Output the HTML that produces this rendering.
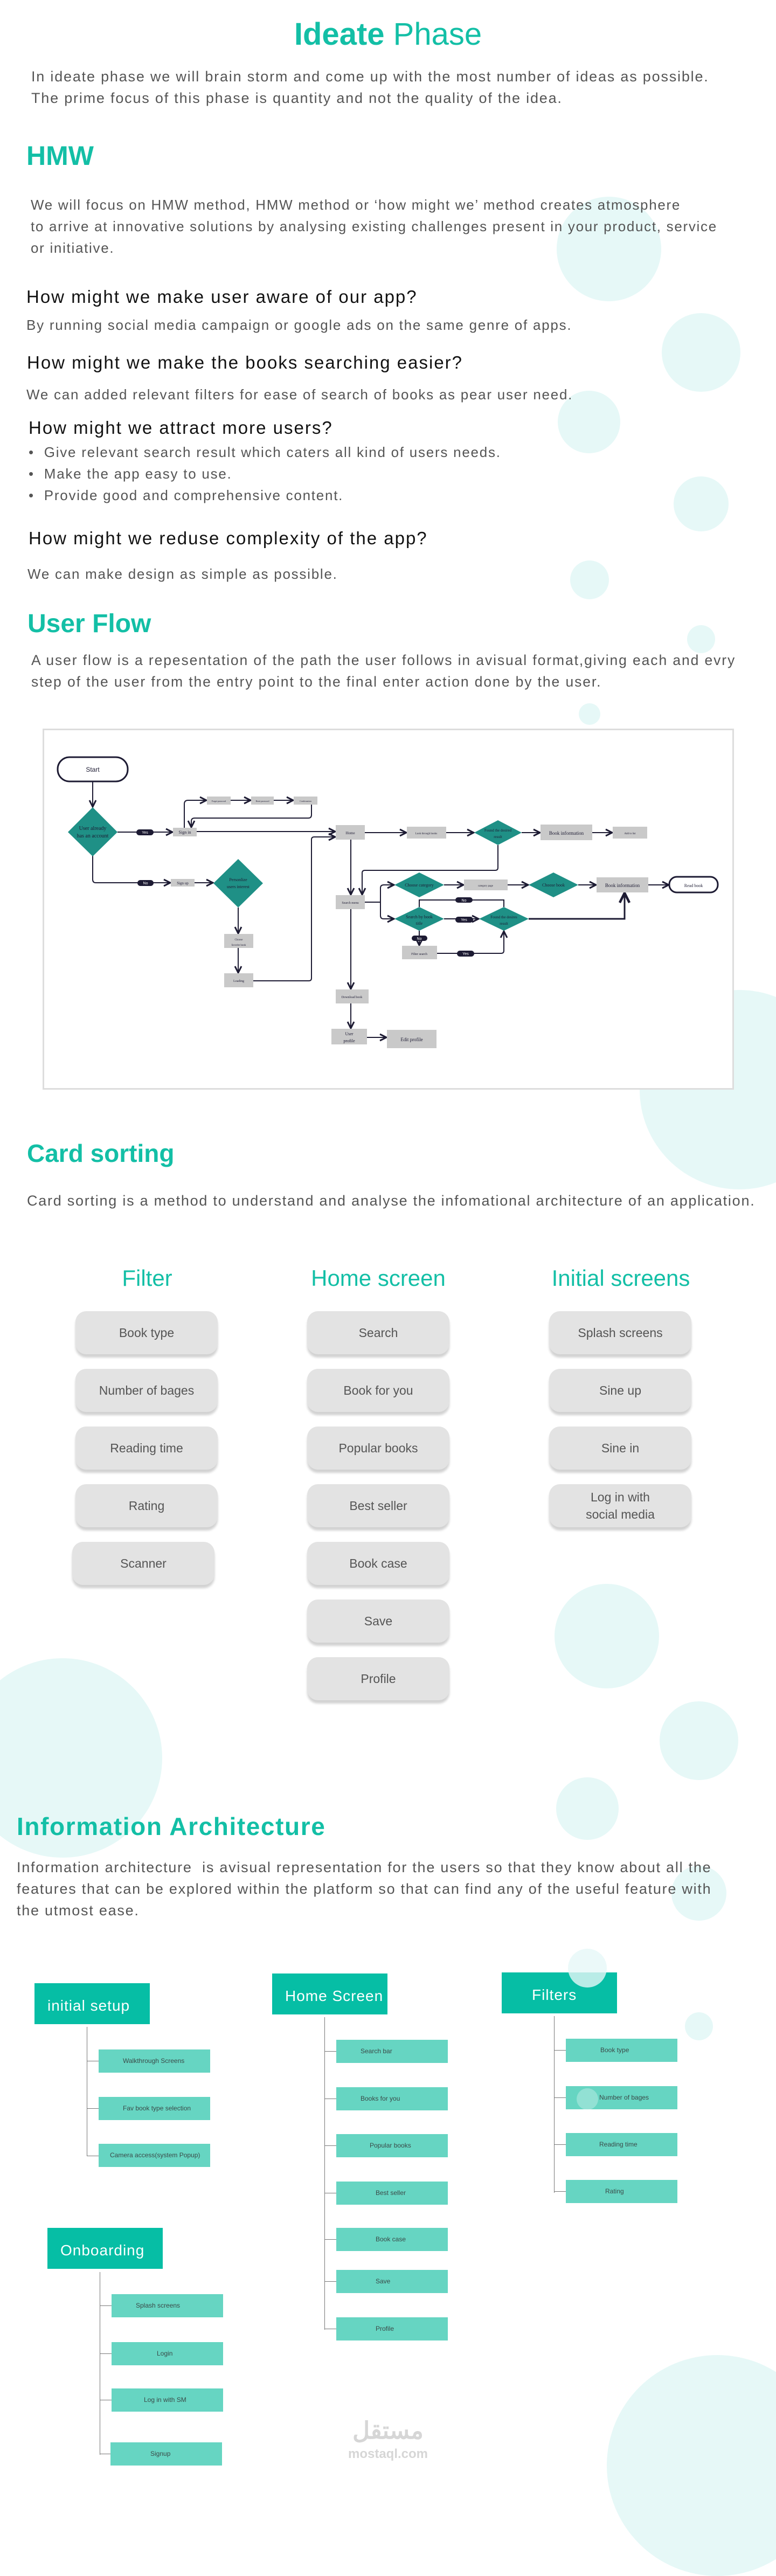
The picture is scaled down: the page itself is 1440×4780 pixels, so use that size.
<!DOCTYPE html>
<html><head><meta charset="utf-8">
<style>
*{margin:0;padding:0;box-sizing:border-box}
body{width:1440px;height:4666px;position:relative;background:#fff;overflow:hidden;font-family:"Liberation Sans",sans-serif}
.c{position:absolute;border-radius:50%;background:#e6f8f7}
.t{position:absolute;white-space:nowrap}
.h{color:#13bfa6;font-weight:bold}
.p{color:#555;font-size:26px;line-height:40px;letter-spacing:1.75px}
.q{color:#111;font-size:33px;letter-spacing:2px}
.card{position:absolute;width:264px;height:80px;background:#e3e3e3;border-radius:20px;box-shadow:0 6px 4px rgba(0,0,0,.18);color:#555;font-size:23px;display:flex;align-items:center;justify-content:center;text-align:center;line-height:32px}
.ch{position:absolute;color:#13bfa6;font-size:42px;text-align:center;width:400px}
.ih{position:absolute;width:214px;height:76px;background:#06bea5;color:#fff;font-size:28px;padding:26px 0 0 24px;letter-spacing:1px}
.ic{position:absolute;width:207px;height:43px;background:#66d5c2;color:#3a4a48;font-size:12px;padding:14px 0 0 45px}
.vl{position:absolute;width:1px;background:#777}
.hl{position:absolute;height:1px;width:22px;background:#777}
</style></head><body>
<div class="c" style="left:1033px;top:365px;width:194px;height:194px"></div>
<div class="c" style="left:1228px;top:581px;width:146px;height:146px"></div>
<div class="c" style="left:1035px;top:725px;width:116px;height:116px"></div>
<div class="c" style="left:1250px;top:884px;width:102px;height:102px"></div>
<div class="c" style="left:1058px;top:1040px;width:72px;height:72px"></div>
<div class="c" style="left:1275px;top:1160px;width:52px;height:52px"></div>
<div class="c" style="left:1074px;top:1305px;width:40px;height:40px"></div>
<div class="c" style="left:1187px;top:1837px;width:370px;height:370px"></div>
<div class="c" style="left:1029px;top:2939px;width:194px;height:194px"></div>
<div class="c" style="left:1224px;top:3157px;width:146px;height:146px"></div>
<div class="c" style="left:-69px;top:3077px;width:370px;height:370px"></div>
<div class="c" style="left:1032px;top:3298px;width:116px;height:116px"></div>
<div class="c" style="left:1246px;top:3462px;width:102px;height:102px"></div>
<div class="c" style="left:1271px;top:3734px;width:52px;height:52px"></div>
<div class="c" style="left:1126px;top:4370px;width:410px;height:410px"></div>

<div class="t h" style="left:0;width:1440px;text-align:center;top:30px;font-size:58px;font-weight:normal"><b>Ideate</b> Phase</div>
<div class="t p" style="left:58px;top:122px;font-size:27px;letter-spacing:1.8px">In ideate phase we will brain storm and come up with the most number of ideas as possible.<br>The prime focus of this phase is quantity and not the quality of the idea.</div>
<div class="t h" style="left:49px;top:260px;font-size:50px">HMW</div>
<div class="t p" style="left:57px;top:360px;letter-spacing:1.7px">We will focus on HMW method, HMW method or ‘how might we’ method creates atmosphere<br>to arrive at innovative solutions by analysing existing challenges present in your product, service<br>or initiative.</div>
<div class="t q" style="left:49px;top:532px">How might we make user aware of our app?</div>
<div class="t p" style="left:49px;top:583px">By running social media campaign or google ads on the same genre of apps.</div>
<div class="t q" style="left:50px;top:654px">How might we make the books searching easier?</div>
<div class="t p" style="left:49px;top:712px">We can added relevant filters for ease of search of books as pear user need.</div>
<div class="t q" style="left:53px;top:775px">How might we attract more users?</div>
<div class="t p" style="left:53px;top:819px">•&nbsp; Give relevant search result which caters all kind of users needs.<br>•&nbsp; Make the app easy to use.<br>•&nbsp; Provide good and comprehensive content.</div>
<div class="t q" style="left:53px;top:980px">How might we reduse complexity of the app?</div>
<div class="t p" style="left:51px;top:1045px">We can make design as simple as possible.</div>

<div class="t h" style="left:51px;top:1130px;font-size:48px">User Flow</div>
<div class="t p" style="left:58px;top:1205px;font-size:26.5px;letter-spacing:1.9px">A user flow is a repesentation of the path the user follows in avisual format,giving each and evry<br>step of the user from the entry point to the final enter action done by the user.</div>

<div style="position:absolute;left:79px;top:1352px;width:1283px;height:670px;border:3px solid #ddd;background:#fff"></div>
<svg style="position:absolute;left:0;top:1340px" width="1440" height="700" viewBox="0 1340 1440 700">
<defs><marker id="a" markerWidth="8" markerHeight="8" refX="7" refY="4" orient="auto"><path d="M1,1 L7,4 L1,7" fill="none" stroke="#1d1b33" stroke-width="1.5"/></marker></defs>
<g fill="none" stroke="#1d1b33" stroke-width="2" marker-end="url(#a)">
<path d="M172 1450 V1497"/>
<path d="M218 1544 H320"/>
<path d="M342 1536 V1492 Q342 1485 349 1485 H383"/>
<path d="M428 1485 H465"/><path d="M508 1485 H544"/>
<path d="M578 1493 V1512 Q578 1518 572 1518 H361 Q355 1518 355 1524 V1535"/>
<path d="M365 1543 H622"/>
<path d="M677 1545 H754"/><path d="M828 1545 H879"/><path d="M968 1545 H1002"/><path d="M1099 1545 H1136"/>
<path d="M924 1568 V1610 Q924 1615 919 1615 H677 Q672 1615 672 1620 V1660"/>
<path d="M172 1588 V1632 Q172 1638 178 1638 H316"/>
<path d="M361 1638 H395"/>
<path d="M442 1684 V1732"/><path d="M442 1759 V1805"/>
<path d="M470 1820 H573 Q578 1820 578 1815 V1558 Q578 1553 583 1553 H622"/>
<path d="M651 1558 V1660"/>
<path d="M677 1674 H706 M706 1674 V1648 Q706 1642 712 1642 H731"/>
<path d="M706 1674 V1699 Q706 1705 712 1705 H731"/>
<path d="M824 1642 H860"/><path d="M942 1642 H980"/><path d="M1073 1642 H1106"/><path d="M1203 1642 H1241"/>
<path d="M824 1705 H888"/>
<path d="M778 1683 V1670 H935 V1683" marker-end="none"/>
<path d="M981 1705 H1159 V1657" stroke-width="3"/>
<path d="M778 1727 V1754"/>
<path d="M811 1769 H930 Q935 1769 935 1764 V1728"/>
<path d="M651 1687 V1835"/><path d="M651 1862 V1908"/><path d="M681 1925 H717"/>
</g>
<g font-family="Liberation Serif,serif" fill="#1d1b33" text-anchor="middle">
<rect x="107" y="1405" width="130" height="45" rx="22" fill="#fff" stroke="#1d1b33" stroke-width="3"/>
<text x="172" y="1432" font-family="Liberation Sans" font-size="12">Start</text>
<path d="M172 1498 L218 1544 L172 1589 L126 1544Z" fill="#1f9086"/>
<text x="172" y="1540" font-size="10">User already</text><text x="172" y="1554" font-size="10">has an account</text>
<g fill="#c9c9c9"><rect x="321" y="1536" width="44" height="16"/><rect x="384" y="1478" width="44" height="15"/><rect x="466" y="1478" width="42" height="15"/><rect x="545" y="1478" width="44" height="15"/>
<rect x="623" y="1531" width="54" height="27"/><rect x="755" y="1534" width="73" height="22"/><rect x="1003" y="1530" width="96" height="29"/><rect x="1137" y="1534" width="64" height="22"/>
<rect x="317" y="1631" width="44" height="14"/><rect x="416" y="1733" width="54" height="26"/><rect x="416" y="1806" width="54" height="26"/><rect x="623" y="1661" width="54" height="26"/>
<rect x="861" y="1632" width="81" height="20"/><rect x="1107" y="1628" width="96" height="28"/><rect x="746" y="1755" width="65" height="25"/>
<rect x="623" y="1836" width="61" height="26"/><rect x="615" y="1909" width="66" height="29"/><rect x="718" y="1911" width="92" height="34"/></g>
<text x="343" y="1547" font-size="8">Sign in</text><text x="406" y="1488" font-size="4">Forget password</text><text x="487" y="1488" font-size="4">Reset password</text><text x="567" y="1488" font-size="4">Confirmation</text>
<text x="650" y="1548" font-size="7">Home</text><text x="791" y="1548" font-size="5">Look through books</text><text x="1051" y="1549" font-size="9">Book information</text><text x="1169" y="1548" font-size="5">Add to list</text>
<text x="339" y="1641" font-size="7">Sign up</text><text x="443" y="1745" font-size="5">Choose</text><text x="443" y="1755" font-size="5">favorite book</text><text x="443" y="1822" font-size="6">Loading</text>
<text x="650" y="1677" font-size="6">Search menu</text><text x="901" y="1645" font-size="5">category page</text><text x="1155" y="1646" font-size="9">Book information</text>
<text x="778" y="1772" font-size="6">Filter search</text><text x="653" y="1852" font-size="6">Download book</text><text x="648" y="1921" font-size="8">User</text><text x="648" y="1934" font-size="8">profile</text><text x="764" y="1932" font-size="9">Edit profile</text>
<g fill="#1f9086"><path d="M924 1522 L968 1545 L924 1568 L880 1545Z"/><path d="M442 1594 L488 1639 L442 1684 L396 1639Z"/><path d="M778 1619 L824 1642 L778 1665 L732 1642Z"/><path d="M1027 1619 L1073 1642 L1027 1665 L981 1642Z"/><path d="M778 1683 L824 1705 L778 1727 L732 1705Z"/><path d="M935 1683 L981 1705 L935 1727 L889 1705Z"/></g>
<text x="924" y="1543" font-size="7">Found the desired</text><text x="924" y="1555" font-size="7">result</text>
<text x="442" y="1635" font-size="8">Personlize</text><text x="442" y="1648" font-size="8">users interest</text>
<text x="778" y="1645" font-size="8">Choose category</text><text x="1027" y="1645" font-size="8">Choose book</text>
<text x="778" y="1704" font-size="8">Search by book</text><text x="778" y="1716" font-size="8">title</text>
<text x="935" y="1704" font-size="7">Found the desires</text><text x="935" y="1716" font-size="7">result</text>
<rect x="1242" y="1627" width="90" height="29" rx="14" fill="#fff" stroke="#1d1b33" stroke-width="3"/><text x="1287" y="1646" font-size="8">Read book</text>
<g fill="#1d1b33"><rect x="253" y="1539" width="32" height="11" rx="5.5"/><rect x="255" y="1633" width="30" height="11" rx="5.5"/><rect x="845" y="1665" width="32" height="10" rx="5"/><rect x="845" y="1701" width="33" height="11" rx="5.5"/><rect x="764" y="1736" width="29" height="10" rx="5"/><rect x="848" y="1764" width="32" height="11" rx="5.5"/></g>
<g fill="#fff" font-family="Liberation Sans" font-size="7"><text x="269" y="1547">Yes</text><text x="270" y="1641">No</text><text x="861" y="1673">No</text><text x="861" y="1709">Yes</text><text x="778" y="1744">No</text><text x="864" y="1772">Yes</text></g>
</g></svg>

<div class="t h" style="left:50px;top:2113px;font-size:46px">Card sorting</div>
<div class="t p" style="left:50px;top:2208px;font-size:27px;letter-spacing:1.75px">Card sorting is a method to understand and analyse the infomational architecture of an application.</div>
<div class="ch" style="left:73px;top:2348px">Filter</div>
<div class="ch" style="left:502px;top:2348px">Home screen</div>
<div class="ch" style="left:952px;top:2348px">Initial screens</div>
<div class="card" style="left:140px;top:2433px">Book type</div>
<div class="card" style="left:140px;top:2540px">Number of bages</div>
<div class="card" style="left:140px;top:2647px">Reading time</div>
<div class="card" style="left:140px;top:2754px">Rating</div>
<div class="card" style="left:134px;top:2861px">Scanner</div>
<div class="card" style="left:570px;top:2433px">Search</div>
<div class="card" style="left:570px;top:2540px">Book for you</div>
<div class="card" style="left:570px;top:2647px">Popular books</div>
<div class="card" style="left:570px;top:2754px">Best seller</div>
<div class="card" style="left:570px;top:2861px">Book case</div>
<div class="card" style="left:570px;top:2968px">Save</div>
<div class="card" style="left:570px;top:3075px">Profile</div>
<div class="card" style="left:1019px;top:2433px">Splash screens</div>
<div class="card" style="left:1019px;top:2540px">Sine up</div>
<div class="card" style="left:1019px;top:2647px">Sine in</div>
<div class="card" style="left:1019px;top:2754px">Log in with<br>social media</div>

<div class="t h" style="left:31px;top:3362px;font-size:46px;letter-spacing:1.6px">Information Architecture</div>
<div class="t p" style="left:31px;top:3445px;font-size:27px;letter-spacing:1.75px">Information architecture&nbsp; is avisual representation for the users so that they know about all the<br>features that can be explored within the platform so that can find any of the useful feature with<br>the utmost ease.</div>

<div class="ih" style="left:64px;top:3680px">initial setup</div>
<div class="ih" style="left:505px;top:3662px">Home Screen</div>
<div class="ih" style="left:931px;top:3660px;padding-left:56px">Filters</div>
<div class="ih" style="left:88px;top:4134px">Onboarding</div>
<div class="vl" style="left:161px;top:3761px;height:240px"></div>
<div class="vl" style="left:602px;top:3743px;height:580px"></div>
<div class="vl" style="left:1028px;top:3741px;height:328px"></div>
<div class="vl" style="left:185px;top:4216px;height:339px"></div>
<div class="hl" style="left:161px;top:3824px"></div><div class="hl" style="left:161px;top:3912px"></div><div class="hl" style="left:161px;top:4000px"></div>
<div class="hl" style="left:602px;top:3806px"></div><div class="hl" style="left:602px;top:3894px"></div><div class="hl" style="left:602px;top:3981px"></div><div class="hl" style="left:602px;top:4069px"></div><div class="hl" style="left:602px;top:4155px"></div><div class="hl" style="left:602px;top:4233px"></div><div class="hl" style="left:602px;top:4321px"></div>
<div class="hl" style="left:1028px;top:3804px"></div><div class="hl" style="left:1028px;top:3892px"></div><div class="hl" style="left:1028px;top:3979px"></div><div class="hl" style="left:1028px;top:4066px"></div>
<div class="hl" style="left:185px;top:4278px"></div><div class="hl" style="left:185px;top:4367px"></div><div class="hl" style="left:185px;top:4453px"></div><div class="hl" style="left:185px;top:4553px"></div>
<div class="ic" style="left:183px;top:3803px">Walkthrough Screens</div>
<div class="ic" style="left:183px;top:3891px">Fav book type selection</div>
<div class="ic" style="left:183px;top:3978px;padding-left:21px">Camera access(system Popup)</div>
<div class="ic" style="left:624px;top:3785px">Search bar</div>
<div class="ic" style="left:624px;top:3873px">Books for you</div>
<div class="ic" style="left:624px;top:3960px;padding-left:62px">Popular books</div>
<div class="ic" style="left:624px;top:4048px;padding-left:73px">Best seller</div>
<div class="ic" style="left:624px;top:4134px;padding-left:73px">Book case</div>
<div class="ic" style="left:624px;top:4212px;padding-left:73px">Save</div>
<div class="ic" style="left:624px;top:4300px;padding-left:73px">Profile</div>
<div class="ic" style="left:1050px;top:3783px;padding-left:64px">Book type</div>
<div class="ic" style="left:1050px;top:3871px;padding-left:62px">Number of bages</div>
<div class="ic" style="left:1050px;top:3958px;padding-left:62px">Reading time</div>
<div class="ic" style="left:1050px;top:4045px;padding-left:73px">Rating</div>
<div class="ic" style="left:207px;top:4257px;padding-left:45px">Splash screens</div>
<div class="ic" style="left:207px;top:4346px;padding-left:84px">Login</div>
<div class="ic" style="left:207px;top:4432px;padding-left:60px">Log in with SM</div>
<div class="ic" style="left:205px;top:4532px;padding-left:74px">Signup</div>
<div class="c" style="left:1070px;top:3875px;width:40px;height:40px;opacity:.35"></div>
<div class="c" style="left:1054px;top:3616px;width:72px;height:72px;opacity:.8"></div>

<div class="t" style="left:634px;top:4488px;width:172px;text-align:center;color:#d6d6d6;font-size:44px;font-weight:bold;font-family:'Liberation Sans','Noto Sans CJK SC',sans-serif;line-height:46px">مستقل</div>
<div class="t" style="left:634px;top:4540px;width:172px;text-align:center;color:#d6d6d6;font-size:24px;font-weight:bold">mostaql.com</div>
</body></html>
